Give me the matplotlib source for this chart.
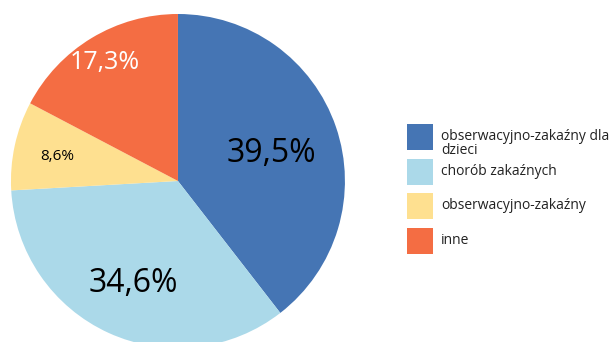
import numpy as np
import matplotlib.pyplot as plt
from matplotlib.patches import Rectangle

plt.rcParams['font.family'] = ['Open Sans', 'DejaVu Sans']

categories = ['obserwacyjno-zakaźny dla\ndzieci', 'chorób zakaźnych',
              'obserwacyjno-zakaźny', 'inne']
values = [39.5, 34.6, 8.6, 17.3]
colors = ['#4575b4', '#abd9e9', '#fee090', '#f46d43']

# label styling per slice
label_dist = [0.59, 0.65, 0.74, 0.85]
label_size = [23, 23, 11, 18]
label_color = ['black', 'black', 'black', 'white']

fig = plt.figure(figsize=(6.09, 3.42), dpi=100)
ax = fig.add_axes([0.018, -0.0175, 0.5484, 0.9766])

wedges, texts, autotexts = ax.pie(
    values, colors=colors, startangle=90, counterclock=False,
    autopct=lambda p: f'{p:.1f}%'.replace('.', ','),
    wedgeprops=dict(linewidth=0))
ax.set_aspect('equal')
ax.set_xlim(-1, 1)
ax.set_ylim(-1, 1)

for w, t, d, s, c in zip(wedges, autotexts, label_dist, label_size, label_color):
    mid = np.deg2rad((w.theta1 + w.theta2) / 2)
    t.set_position((d * np.cos(mid), d * np.sin(mid)))
    t.set_fontsize(s)
    t.set_color(c)
    t.set_ha('center')
    t.set_va('center_baseline')

# legend drawn by hand
W, H = 609, 342
tops = [124, 159, 193, 228]
for lab, col, top in zip(categories, colors, tops):
    fig.patches.append(Rectangle((407 / W, 1 - (top + 26) / H), 26 / W, 26 / H,
                                 facecolor=col, edgecolor='none',
                                 transform=fig.transFigure))
    fig.text(441 / W, 1 - (top + 5) / H, lab, fontsize=10, va='top', ha='left',
             color='#222222', linespacing=0.95)

fig.savefig('out.png', dpi=100)
